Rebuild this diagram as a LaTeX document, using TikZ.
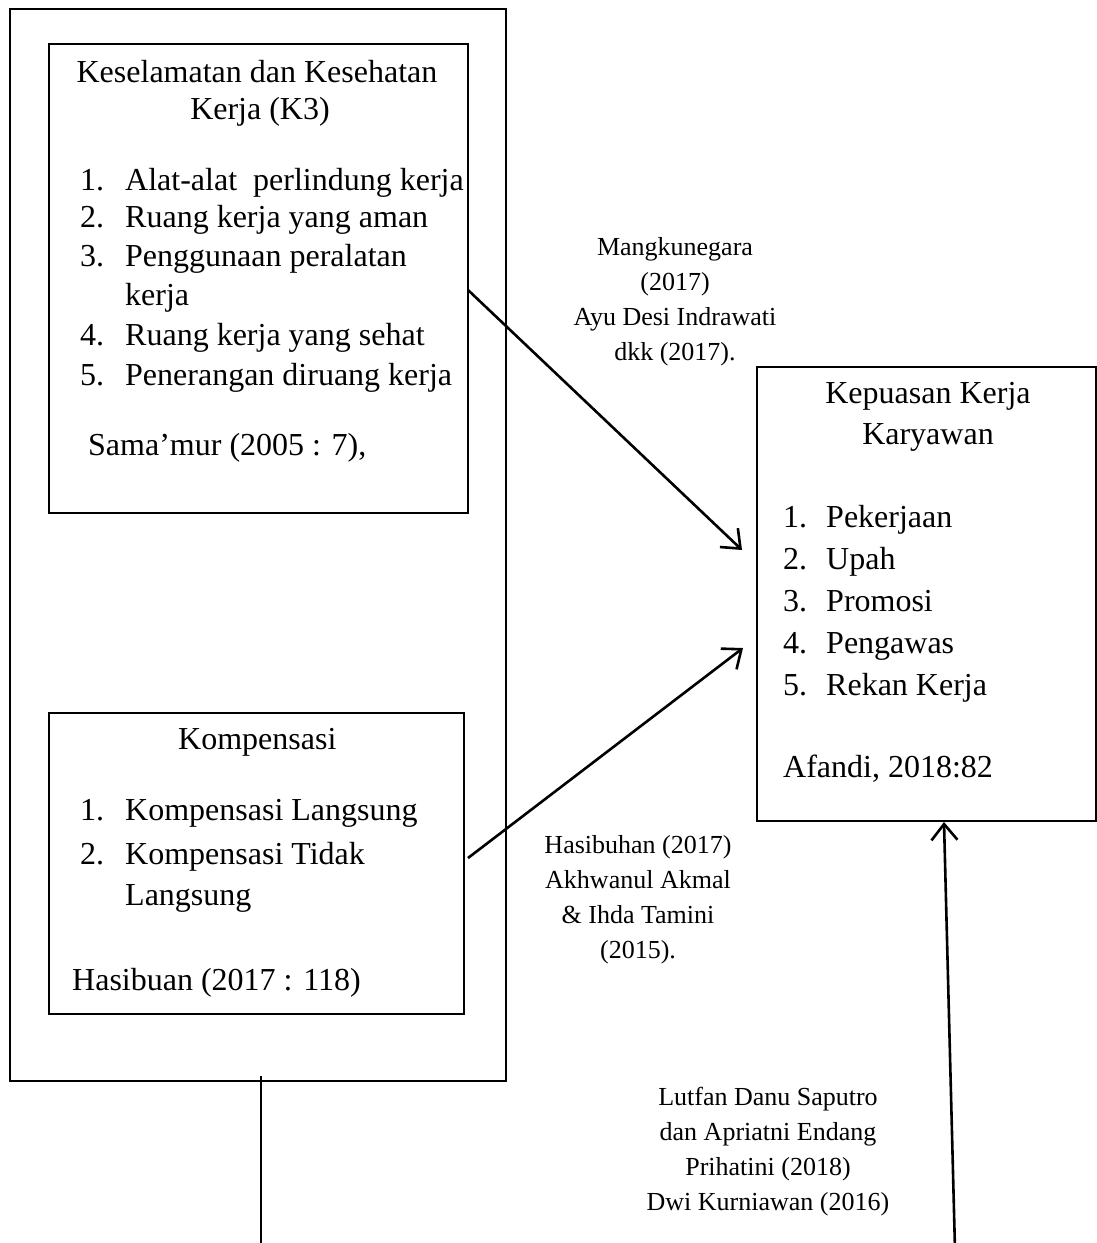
\documentclass[tikz,border=0pt]{standalone}
\usepackage{fontspec}
\setmainfont{Liberation Serif}
\usetikzlibrary{arrows.meta}
\begin{document}
\begin{tikzpicture}[x=1pt,y=-1pt,
  box/.style={draw,line width=1.8pt,inner sep=0pt,anchor=north west},
  big/.style={font=\fontsize{32}{42}\selectfont,inner sep=0pt,text height=22pt,text depth=7pt},
  small/.style={font=\fontsize{26}{35}\selectfont,align=center,inner sep=0pt},
  arr/.style={line width=2.6pt,-{Straight Barb[length=16pt,width=26pt,line width=2.6pt]}}]
\useasboundingbox (0,0) rectangle (1097,1243);
% boxes
\node[box,minimum width=496pt,minimum height=1072pt] (outer) at (9,8) {};
\node[box,minimum width=419pt,minimum height=469pt] (k3) at (48,43) {};
\node[box,minimum width=415pt,minimum height=301pt] (komp) at (48,712) {};
\node[box,minimum width=339pt,minimum height=454pt] (kep) at (756,366) {};
% box 1 text
\node[big] (k3t1) at (257,75) {Keselamatan dan Kesehatan};
\node[big] (k3t2) at (260,112) {Kerja (K3)};
\node[big,anchor=west] (k3n1) at (80,183) {1.};
\node[big,anchor=west] (k3i1) at (125,183) {Alat-alat\ \ perlindung kerja};
\node[big,anchor=west] (k3n2) at (80,220) {2.};
\node[big,anchor=west] (k3i2) at (125,220) {Ruang kerja yang aman};
\node[big,anchor=west] (k3n3) at (80,259) {3.};
\node[big,anchor=west] (k3i3) at (125,259) {Penggunaan peralatan};
\node[big,anchor=west] (k3i3b) at (125,298) {kerja};
\node[big,anchor=west] (k3n4) at (80,338) {4.};
\node[big,anchor=west] (k3i4) at (125,338) {Ruang kerja yang sehat};
\node[big,anchor=west] (k3n5) at (80,378) {5.};
\node[big,anchor=west] (k3i5) at (125,378) {Penerangan diruang kerja};
\node[big,anchor=west] (k3src) at (88,448) {Sama’mur (2005 : 7),};
% box 2 text
\node[big,anchor=west] (kompt) at (178,742) {Kompensasi};
\node[big,anchor=west] (kompn1) at (80,813) {1.};
\node[big,anchor=west] (kompi1) at (125,813) {Kompensasi Langsung};
\node[big,anchor=west] (kompn2) at (80,857) {2.};
\node[big,anchor=west] (kompi2) at (125,857) {Kompensasi Tidak};
\node[big,anchor=west] (kompi2b) at (125,898) {Langsung};
\node[big,anchor=west] (kompsrc) at (72,983) {Hasibuan (2017 : 118)};
% right box text
\node[big] (kept1) at (928,396) {Kepuasan Kerja};
\node[big] (kept2) at (928,437) {Karyawan};
\node[big,anchor=west] (kepn1) at (783,520) {1.};
\node[big,anchor=west] (kepi1) at (826,520) {Pekerjaan};
\node[big,anchor=west] (kepn2) at (783,562) {2.};
\node[big,anchor=west] (kepi2) at (826,562) {Upah};
\node[big,anchor=west] (kepn3) at (783,604) {3.};
\node[big,anchor=west] (kepi3) at (826,604) {Promosi};
\node[big,anchor=west] (kepn4) at (783,646) {4.};
\node[big,anchor=west] (kepi4) at (826,646) {Pengawas};
\node[big,anchor=west] (kepn5) at (783,688) {5.};
\node[big,anchor=west] (kepi5) at (826,688) {Rekan Kerja};
\node[big,anchor=west] (kepsrc) at (783,770) {Afandi, 2018:82};
% labels
\node[small] (lab1) at (675,302) {Mangkunegara\\(2017)\\Ayu Desi Indrawati\\dkk (2017).};
\node[small] (lab2) at (638,900) {Hasibuhan (2017)\\Akhwanul Akmal\\\& Ihda Tamini\\(2015).};
\node[small] (lab3) at (768,1152) {Lutfan Danu Saputro\\dan Apriatni Endang\\Prihatini (2018)\\Dwi Kurniawan (2016)};
% connectors
\coordinate (a1s) at (468,290);
\coordinate (a1e) at (742,550);
\coordinate (a2s) at (468,858);
\coordinate (a2e) at (743,648);
\coordinate (a3s) at (955,1250);
\coordinate (a3e) at (944,822);
\coordinate (ls) at (261,1076);
\coordinate (le) at (261,1250);
\draw[arr] (a1s) -- (a1e);
\draw[arr] (a2s) -- (a2e);
\draw[arr] (a3s) -- (a3e);
\draw[line width=2.6pt] (ls) -- (le);
\end{tikzpicture}
\end{document}
